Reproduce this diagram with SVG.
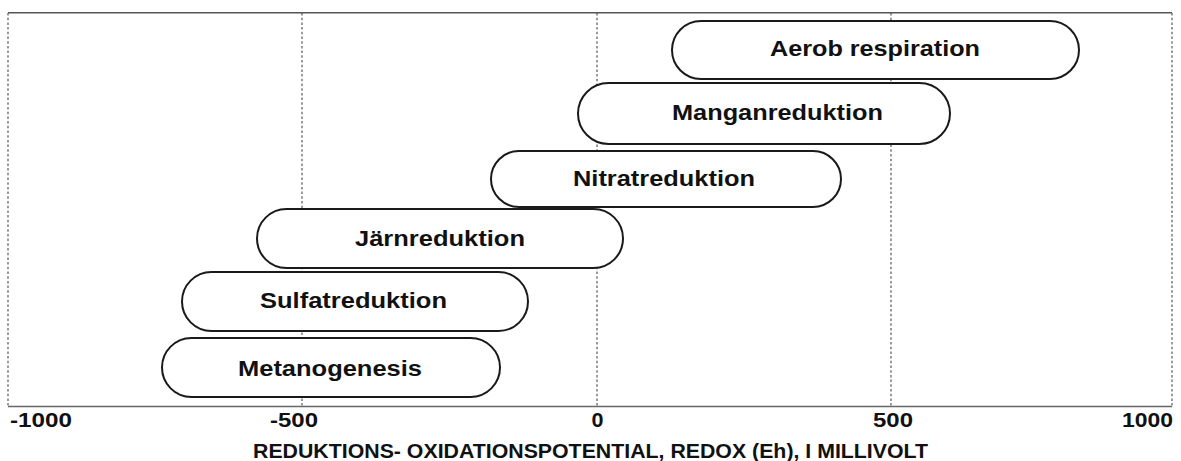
<svg xmlns="http://www.w3.org/2000/svg" width="1181" height="461" viewBox="0 0 1181 461">
<style>
.grid{stroke:#666;stroke-width:1.3;stroke-dasharray:2.5 2.2;fill:none}
.axis{stroke:#666;stroke-width:1.6;fill:none}
.pill{fill:#fff;stroke:#1a1a1a;stroke-width:2}
.lbl{font-family:"Liberation Sans",Arial,sans-serif;font-weight:bold;font-size:21.5px;fill:#111;text-anchor:middle}
.tick{font-family:"Liberation Sans",Arial,sans-serif;font-weight:bold;font-size:19.5px;fill:#111}
.title{font-family:"Liberation Sans",Arial,sans-serif;font-weight:bold;font-size:20.5px;fill:#111;text-anchor:middle}
</style>
<rect width="1181" height="461" fill="#fff"/>
<g id="grid">
<line class="grid" x1="8" y1="13" x2="8" y2="406"/>
<line class="grid" x1="302" y1="13" x2="302" y2="406"/>
<line class="grid" x1="597" y1="13" x2="597" y2="406"/>
<line class="grid" x1="891" y1="13" x2="891" y2="406"/>
<line class="grid" x1="1172" y1="13" x2="1172" y2="406"/>
<line class="axis" x1="8" y1="12.7" x2="1172" y2="12.7" style="stroke:#555"/>
<line class="axis" x1="8" y1="406.5" x2="1172" y2="406.5"/>
</g>
<g id="axis-labels">
<text class="tick" x="10" y="426.5" textLength="62" lengthAdjust="spacingAndGlyphs">-1000</text>
<text class="tick" x="270" y="426.5" textLength="48" lengthAdjust="spacingAndGlyphs">-500</text>
<text class="tick" x="591.5" y="426.5" textLength="12" lengthAdjust="spacingAndGlyphs">0</text>
<text class="tick" x="873" y="426.5" textLength="40" lengthAdjust="spacingAndGlyphs">500</text>
<text class="tick" x="1122" y="426.5" textLength="51" lengthAdjust="spacingAndGlyphs">1000</text>
<text class="title" x="590.5" y="457.5" textLength="675" lengthAdjust="spacingAndGlyphs">REDUKTIONS- OXIDATIONSPOTENTIAL, REDOX (Eh), I MILLIVOLT</text>
</g>
<g id="aerob">
<rect class="pill" x="672" y="21" width="407" height="58" rx="29"/>
<text class="lbl" x="875" y="55.5" textLength="210" lengthAdjust="spacingAndGlyphs">Aerob respiration</text>
</g>
<g id="mangan">
<rect class="pill" x="578" y="83" width="372" height="61" rx="30.5"/>
<text class="lbl" x="777.5" y="120" textLength="211" lengthAdjust="spacingAndGlyphs">Manganreduktion</text>
</g>
<g id="nitrat">
<rect class="pill" x="491" y="151" width="350" height="56" rx="28"/>
<text class="lbl" x="664" y="186" textLength="182" lengthAdjust="spacingAndGlyphs">Nitratreduktion</text>
</g>
<g id="jarn">
<rect class="pill" x="257" y="209" width="366" height="59" rx="29.5"/>
<text class="lbl" x="440" y="245.5" textLength="170" lengthAdjust="spacingAndGlyphs">Järnreduktion</text>
</g>
<g id="sulfat">
<rect class="pill" x="182" y="272" width="346" height="59" rx="29.5"/>
<text class="lbl" x="353.5" y="307.5" textLength="187" lengthAdjust="spacingAndGlyphs">Sulfatreduktion</text>
</g>
<g id="metano">
<rect class="pill" x="162" y="338" width="338" height="59" rx="29.5"/>
<text class="lbl" x="330" y="375.5" textLength="184" lengthAdjust="spacingAndGlyphs">Metanogenesis</text>
</g>
</svg>
